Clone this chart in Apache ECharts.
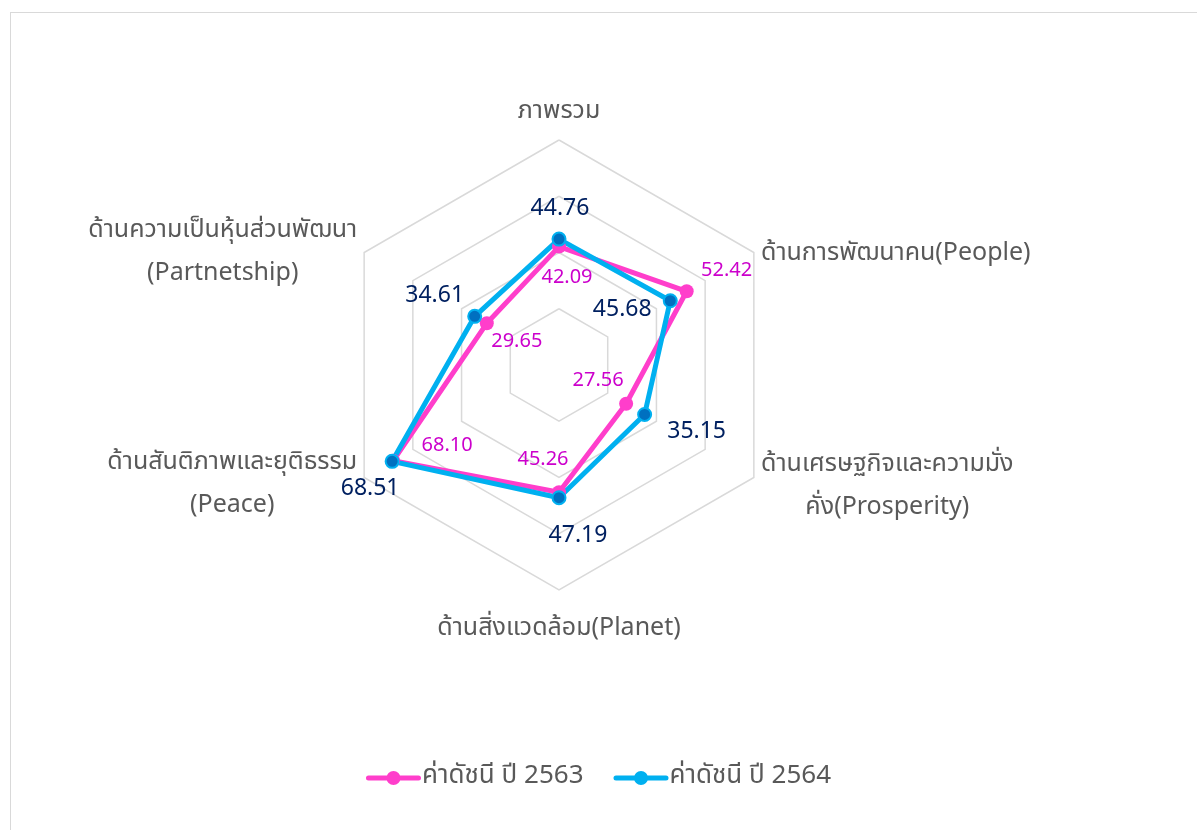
<!DOCTYPE html>
<html>
<head>
<meta charset="utf-8">
<script src="https://cdn.jsdelivr.net/npm/echarts@6/dist/echarts.min.js"></script>
<style>
    html, body { margin: 0; padding: 0; background: #fff; overflow: hidden; }
    #frame { position: absolute; left: 10px; top: 12px; width: 1200px; height: 830px; border: 1px solid #d9d9d9; box-sizing: border-box; }
    #chart { position: absolute; left: 0; top: 0; width: 1197px; height: 830px; }
</style>
</head>
<body>
<div id="frame"></div>
<div id="chart"></div>
<script>
// axes go counter-clockwise from the top, the way echarts lays a radar out
var indicatorNames = [
    'ภาพรวม',
    'ด้านความเป็นหุ้นส่วนพัฒนา\n(Partnetship)',
    'ด้านสันติภาพและยุติธรรม\n(Peace)',
    'ด้านสิ่งแวดล้อม(Planet)',
    'ด้านเศรษฐกิจและความมั่ง\nคั่ง(Prosperity)',
    'ด้านการพัฒนาคน(People)'
];
var axisMax = 80;
var seriesNames = ['ค่าดัชนี ปี 2563', 'ค่าดัชนี ปี 2564'];
var values2563 = [42.09, 29.65, 68.10, 45.26, 27.56, 52.42];
var values2564 = [44.76, 34.61, 68.51, 47.19, 35.15, 45.68];

// where each value label sits, relative to its point (px)
var offs2563 = [[8, 32], [30, 20], [54, -14], [-16, -31], [-28, -22], [40, -19]];
var offs2564 = [[1, -29], [-40, -19], [-22, 29], [19, 40], [52, 19], [-48, 11]];
// padding [top, bottom] of the first line of each axis name, top padding of the second line
var namePad = [[0, 7], [10, 0], [7, 0], [19, 0], [11, 0], [12, 0]];
var linePad = 18;

var fontStack = "'Noto Sans Thai', 'Leelawadee UI', Tahoma, 'Noto Sans', sans-serif";
var nameSize = 25;

// measure the widest line so the other line can be centred under it
var cv = document.createElement('canvas').getContext('2d');
cv.font = nameSize + 'px ' + fontStack;
function lineWidth(s) { return Math.ceil(cv.measureText(s).width); }

var rich = {};
for (let i = 0; i < indicatorNames.length; i++) {
    let lines = indicatorNames[i].split('\n');
    let w = 0;
    lines.forEach(l => { w = Math.max(w, lineWidth(l)); });
    let base = {
        width: w,
        align: 'center',
        fontSize: nameSize,
        fontFamily: fontStack,
        color: '#595959'
    };
    rich['a' + i] = Object.assign({}, base, { padding: [namePad[i][0], 0, namePad[i][1], 0] });
    rich['b' + i] = Object.assign({}, base, { padding: [linePad, 0, 0, 0] });
}

var myChart = echarts.init(document.getElementById('chart'));

function placeLabel(params) {
    let vals = params.seriesIndex == 0 ? values2563 : values2564;
    let offs = params.seriesIndex == 0 ? offs2563 : offs2564;
    for (let k = 0; k < vals.length; k++) {
        if (vals[k].toFixed(2) === params.text) {
            return { dx: offs[k][0], dy: offs[k][1] };
        }
    }
    return {};
}

var legendIcon = 'path://M2.5,4.5 h50 a2.5,2.5 0 0,1 0,5 h-50 a2.5,2.5 0 0,1 0,-5 z M20.5,7 a7,7 0 1,1 14,0 a7,7 0 1,1 -14,0 z';

option = {
    backgroundColor: 'transparent',
    animation: false,
    legend: {
        bottom: 34,
        left: 'center',
        itemWidth: 55,
        itemHeight: 14,
        itemGap: 30,
        icon: legendIcon,
        textStyle: { fontSize: 26, color: '#595959', fontFamily: fontStack, padding: [0, 0, 0, -4] },
        data: [
            { name: seriesNames[0], itemStyle: { color: '#ff3ecb' } },
            { name: seriesNames[1], itemStyle: { color: '#00b0f0', borderWidth: 0 } }
        ]
    },
    radar: {
        center: [559, 365],
        radius: 225,
        startAngle: 90,
        splitNumber: 4,
        shape: 'polygon',
        indicator: indicatorNames.map(n => ({ name: n, min: 0, max: axisMax })),
        axisName: {
            formatter: function(name) {
                let i = indicatorNames.indexOf(name);
                return name.split('\n').map((l, j) => '{' + (j == 0 ? 'a' : 'b') + i + '|' + l + '}').join('\n');
            },
            rich: rich
        },
        nameGap: 8,
        axisLine: { show: false },
        axisTick: { show: false },
        axisLabel: { show: false },
        splitArea: { show: false },
        splitLine: { lineStyle: { color: '#d9d9d9', width: 1.5 } }
    },
    series: [{
        type: 'radar',
        name: seriesNames[0],
        symbol: 'circle',
        symbolSize: 14,
        lineStyle: { color: '#ff3ecb', width: 5 },
        itemStyle: { color: '#ff3ecb' },
        label: {
            show: true,
            position: 'inside',
            formatter: p => (+p.value).toFixed(2),
            color: '#cc00cc',
            fontSize: 20,
            fontFamily: fontStack
        },
        labelLayout: placeLabel,
        data: [{ name: seriesNames[0], value: values2563 }]
    }, {
        type: 'radar',
        name: seriesNames[1],
        symbol: 'circle',
        symbolSize: 13,
        lineStyle: { color: '#00b0f0', width: 5 },
        itemStyle: { color: '#0070c0', borderColor: '#00b0f0', borderWidth: 2 },
        label: {
            show: true,
            position: 'inside',
            formatter: p => (+p.value).toFixed(2),
            color: '#002060',
            fontSize: 23,
            fontFamily: fontStack
        },
        labelLayout: placeLabel,
        data: [{ name: seriesNames[1], value: values2564 }]
    }]
};
if (option && typeof option === "object") {
    myChart.setOption(option, true);
}
</script>
</body>
</html>
